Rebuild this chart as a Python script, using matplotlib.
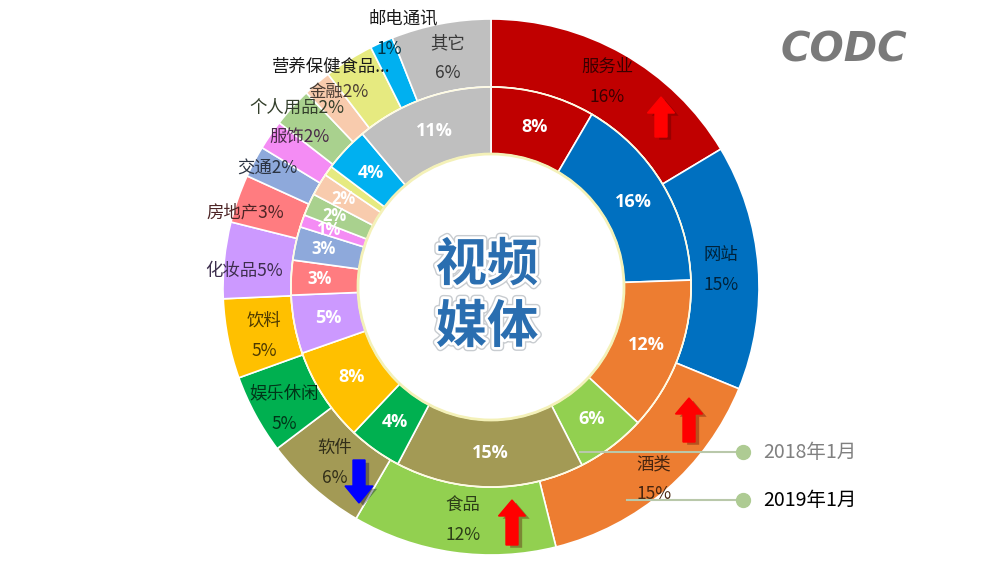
import numpy as np
import matplotlib
matplotlib.use("Agg")
import matplotlib.pyplot as plt
import matplotlib.patheffects as pe
from matplotlib.patches import FancyArrow, Circle
from matplotlib.colors import to_rgb

plt.rcParams['font.family'] = ['Noto Sans CJK SC', 'DejaVu Sans']

# ---------------- data ----------------
categories = ['服务业', '网站', '酒类', '食品', '软件', '娱乐休闲', '饮料', '化妆品',
              '房地产', '交通', '服饰', '个人用品', '金融', '营养保健食品', '邮电通讯', '其它']
values_2019 = [16.4, 14.8, 14.9, 12.3, 6.3, 4.8, 4.8, 4.6, 2.9, 1.9, 1.8, 2.4, 1.7, 3.0, 1.4, 6.0]
values_2018 = [8.4, 16.0, 12.4, 5.6, 15.2, 4.3, 7.6, 4.7, 2.8, 2.7, 1.0, 1.8, 1.8, 0.8, 3.6, 11.1]
series_names = ['2018年1月', '2019年1月']
trend = {'服务业': 'up', '酒类': 'up', '食品': 'up', '软件': 'down'}
title_lines = ['视频', '媒体']
logo_text = 'CODC'

# ---------------- style / layout ----------------
colors = ['#C00000', '#0070C0', '#ED7D31', '#92D050', '#A39A55', '#00B050', '#FFC000', '#CC99FF',
          '#FF7C80', '#8EA9DB', '#F48CF4', '#A9D18E', '#F8CBAD', '#E6EA80', '#00B0F0', '#BFBFBF']
W, H = 995, 569
CX, CY = 491, H - 287
R_OUT, R_MID, R_IN = 268, 200, 133

# outer label layout: (radius, angle offset cw in deg, mode)
outer_layout = [
    (236, 0, 'two'), (231, 0, 'two'), (252, 0.5, 'two'), (235, -1.3, 'two'),
    (235, 0, 'two'), (240, -2, 'two'), (232, -1, 'two'), (247, -2, 'one'),
    (257, -2.5, 'one'), (253, 0, 'one'), (243, 3.5, 'one'), (264, 0.5, 'one'),
    (248, 2.5, 'one'), (272, -4, 'name'), (283, 6, 'split'), (233, 0, 'two'),
]
arrow_layout = {'服务业': (661, 97, 137), '酒类': (689, 398, 442),
                '食品': (512, 500, 545), '软件': (359, 460, 503)}


def pct_text(v):
    return f"{int(v + 0.5)}%"


def darken(c, f=0.3):
    r, g, b = to_rgb(c)
    return (r * f, g * f, b * f)


def pt(angle_cw, r):
    a = np.deg2rad(angle_cw)
    return CX + r * np.sin(a), CY + r * np.cos(a)


def cw_mid(w):
    m = (w.theta1 + w.theta2) / 2.0
    return (90 - m) % 360


fig = plt.figure(figsize=(W / 100, H / 100), dpi=100)
ax = fig.add_axes([0, 0, 1, 1])

wedges_out, _ = ax.pie(values_2019, colors=colors, startangle=90, counterclock=False,
                       radius=R_OUT, center=(CX, CY),
                       wedgeprops=dict(width=R_OUT - R_MID, edgecolor='white', linewidth=1.2))
wedges_in, _ = ax.pie(values_2018, colors=colors, startangle=90, counterclock=False,
                      radius=R_MID, center=(CX, CY),
                      wedgeprops=dict(width=R_MID - R_IN, edgecolor='white', linewidth=1.2))

ax.add_patch(Circle((CX, CY), R_IN, fill=False, edgecolor='#F4F1B8', linewidth=2, zorder=5))
ax.add_patch(Circle((CX, CY), R_MID, fill=False, edgecolor='#FFFBE0', linewidth=1, zorder=5))

# outer labels
fs_out = 12.5
for i, w in enumerate(wedges_out):
    name = categories[i]
    pct = pct_text(values_2019[i])
    r, d, mode = outer_layout[i]
    col = darken(colors[i], 0.3)
    ang = cw_mid(w) + d
    x, y = pt(ang, r)
    if mode == 'two':
        ax.text(x, y + 15, name, ha='center', va='center', fontsize=fs_out, color=col, zorder=6)
        ax.text(x, y - 15, pct, ha='center', va='center', fontsize=fs_out, color=col, zorder=6)
    elif mode == 'one':
        ax.text(x, y, name + pct, ha='center', va='center', fontsize=fs_out, color=col, zorder=6)
    elif mode == 'name':
        ax.text(x, y, name + '...', ha='center', va='center', fontsize=fs_out, color='#1A1A1A', zorder=6)
    elif mode == 'split':
        ax.text(x, y, name, ha='center', va='center', fontsize=fs_out, color='#1A1A1A', zorder=6)
        x2, y2 = pt(cw_mid(w) + 1, 259)
        ax.text(x2, y2, pct, ha='center', va='center', fontsize=fs_out, color=col, zorder=6)

# inner labels
for i, w in enumerate(wedges_in):
    if categories[i] == '营养保健食品':
        continue
    v = values_2018[i]
    r = 166 if v >= 3 else 172
    x, y = pt(cw_mid(w), r)
    ax.text(x, y, pct_text(v), ha='center', va='center', fontsize=13 if v >= 3 else 12,
            fontweight='bold', color='white', zorder=6, family=['Open Sans', 'DejaVu Sans'])

# trend arrows
for cat, direction in trend.items():
    xa, ytop, ybot = arrow_layout[cat]
    yt, yb = H - ytop, H - ybot
    if direction == 'up':
        arr = FancyArrow(xa, yb, 0, yt - yb, width=12, head_width=27, head_length=16,
                         length_includes_head=True, color='#FF0000', zorder=7)
        shadow = '#500000'
    else:
        arr = FancyArrow(xa, yt, 0, yb - yt, width=12, head_width=28, head_length=17,
                         length_includes_head=True, color='#0000FF', zorder=7)
        shadow = '#000030'
    arr.set_path_effects([pe.SimplePatchShadow(offset=(3, -2), shadow_rgbFace=shadow, alpha=0.35),
                          pe.Normal()])
    ax.add_patch(arr)

# center title
for j, line in enumerate(title_lines):
    t = ax.text(CX - 4, H - (265 + 62 * j), line, ha='center', va='center', fontsize=37,
                fontweight='bold', color='#2A6EB0', zorder=8)
    t.set_path_effects([pe.withStroke(linewidth=6, foreground='#C8CCD0'),
                        pe.Stroke(linewidth=4, foreground='white'), pe.Normal()])

# legend
leg_rows = [(452, 580, '#808080', 'normal'), (500, 627, '#000000', 'normal')]
for (ly, lx0, tcol, wgt), nm in zip(leg_rows, series_names):
    yy = H - ly
    ax.plot([lx0, 743], [yy, yy], color='#B9C8AA', linewidth=1.5, zorder=9)
    ax.plot([743], [yy], 'o', markersize=10, color='#AECB93', zorder=10)
    ax.text(763, yy, nm, ha='left', va='center', fontsize=14, color=tcol, fontweight=wgt, zorder=10)

# logo
ax.text(844, H - 50, logo_text, ha='center', va='center', fontsize=29, fontweight='bold',
        fontstyle='italic', color='#7A7A7A', family='DejaVu Sans')

ax.set_xlim(0, W)
ax.set_ylim(0, H)
ax.set_aspect('equal')
ax.axis('off')
fig.savefig('out.png', dpi=100)
